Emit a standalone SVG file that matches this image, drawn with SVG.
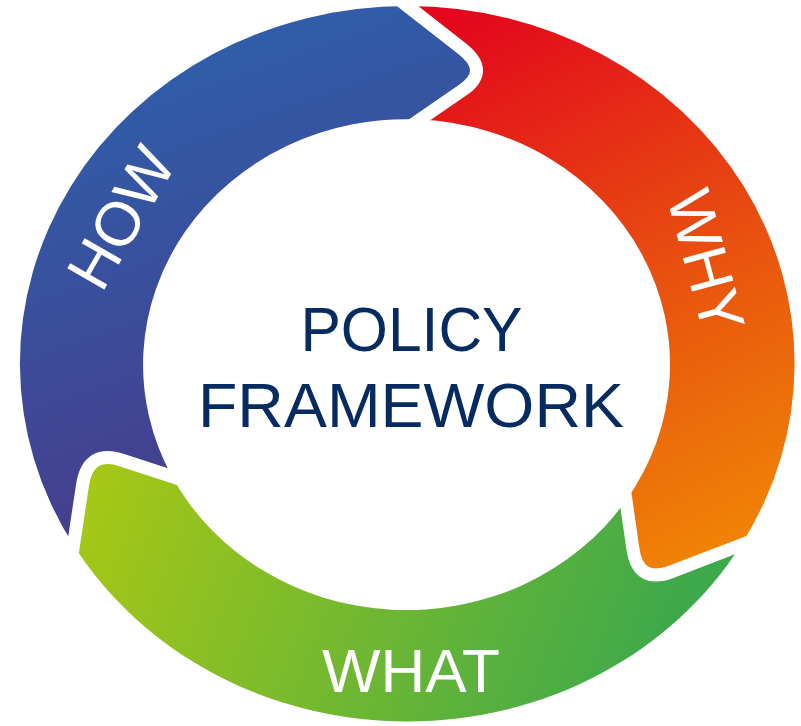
<svg xmlns="http://www.w3.org/2000/svg" width="801" height="726" viewBox="0 0 801 726">
<defs>
<linearGradient id="gBlue" gradientUnits="userSpaceOnUse" x1="150" y1="60" x2="330" y2="560">
<stop offset="0" stop-color="#2f5eaa"/><stop offset="1" stop-color="#4b3686"/>
</linearGradient>
<linearGradient id="gRed" gradientUnits="userSpaceOnUse" x1="450" y1="20" x2="720" y2="560">
<stop offset="0" stop-color="#e3061d"/><stop offset="0.55" stop-color="#e8520f"/><stop offset="1" stop-color="#f08506"/>
</linearGradient>
<linearGradient id="gGreen" gradientUnits="userSpaceOnUse" x1="100" y1="470" x2="650" y2="680">
<stop offset="0" stop-color="#a6c716"/><stop offset="1" stop-color="#3ea94b"/>
</linearGradient>
<style>
.gap{fill:none;stroke:#ffffff;stroke-width:13;stroke-linejoin:round}
.lbl{font-family:"Liberation Sans",Arial,sans-serif;font-size:62px;fill:#ffffff;text-anchor:middle}
.ctr{font-family:"Liberation Sans",Arial,sans-serif;font-size:63px;fill:#062b60;text-anchor:middle}
</style>
</defs>
<rect width="801" height="726" fill="#ffffff"/>
<g id="how">
<path fill="url(#gBlue)" d="M73.5,545 A387,357.5 0 0 1 407.5,6 L462,48.6 Q490.6,71 462.8,90 L420,119.5 A263.5,245.5 0 0 0 172,476.5 L122.2,460.2 Q88,449 82.6,484.6 Z"/>
<text class="lbl" transform="translate(120.7,217.5) rotate(-60)" x="0" y="22">HOW</text>
</g>
<g id="why">
<path fill="url(#gRed)" d="M407.5,6 A387,357.5 0 0 1 741,545 L671.6,571.6 Q638,584.5 632.9,548.9 L626,500.5 A263.5,245.5 0 0 0 420,119.5 L462.8,90 Q490.6,71 462,48.6 Z"/>
<text class="lbl" transform="translate(706.5,261) rotate(75)" x="0" y="22">WHY</text>
</g>
<g id="what">
<path fill="url(#gGreen)" d="M741,545 A387,357.5 0 0 1 73.5,545 L82.6,484.6 Q88,449 122.2,460.2 L172,476.5 A263.5,245.5 0 0 0 626,500.5 L632.9,548.9 Q638,584.5 671.6,571.6 Z"/>
<text class="lbl" x="411" y="692">WHAT</text>
</g>
<g id="connectors">
<path class="gap" d="M395.7,-3.2 L407.5,6 L462,48.6 Q490.6,71 462.8,90 L420,119.5 L407.7,128"/>
<path class="gap" d="M755,539.6 L741,545 L671.6,571.6 Q638,584.5 632.9,548.9 L626,500.5 L623.9,485.6"/>
<path class="gap" d="M71.3,559.8 L73.5,545 L82.6,484.6 Q88,449 122.2,460.2 L172,476.5 L186.3,481.2"/>
</g>
<g id="center">
<text class="ctr" x="411.5" y="351" textLength="222" lengthAdjust="spacingAndGlyphs">POLICY</text>
<text class="ctr" x="411" y="427" textLength="426" lengthAdjust="spacingAndGlyphs">FRAMEWORK</text>
</g>
</svg>
